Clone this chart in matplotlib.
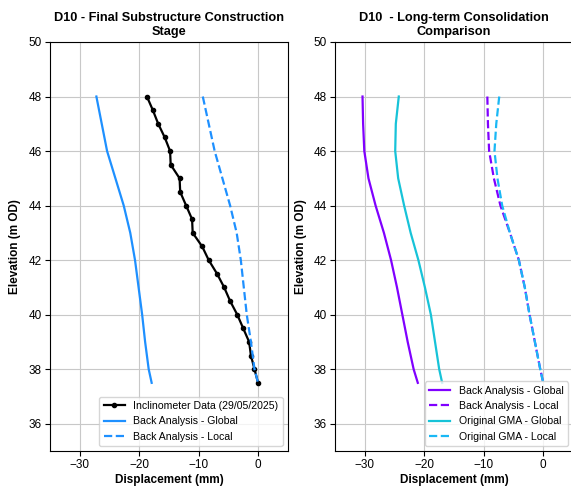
import numpy as np
import matplotlib
matplotlib.use("Agg")
import matplotlib.pyplot as plt

plt.rcParams['font.family'] = ['Liberation Sans', 'DejaVu Sans']

# inclinometer readings
incl_elev = [48, 47.5, 47, 46.5, 46, 45.5, 45, 44.5, 44, 43.5, 43, 42.5,
             42, 41.5, 41, 40.5, 40, 39.5, 39, 38.5, 38, 37.5]
incl_disp = [-18.7, -17.7, -16.8, -15.7, -14.8, -14.7, -13.2, -13.1, -12.1, -11.1, -11.0, -9.4,
             -8.3, -6.9, -5.7, -4.7, -3.5, -2.5, -1.5, -1.2, -0.6, 0.0]

# model profiles
elev = [48, 47, 46, 45, 44, 43, 42, 41, 40, 39, 38, 37.5]
ba_global = [-27.2, -26.3, -25.4, -24.0, -22.6, -21.5, -20.7, -20.1, -19.5, -19.0, -18.4, -17.9]
ba_local = [-9.3, -8.3, -7.3, -6.0, -4.7, -3.6, -2.9, -2.4, -1.9, -1.2, -0.6, 0.0]

lt_ba_global = [-30.4, -30.3, -30.1, -29.4, -28.2, -26.8, -25.6, -24.6, -23.7, -22.8, -21.8, -21.1]
lt_ba_local = [-9.4, -9.3, -9.1, -8.3, -7.2, -5.6, -4.1, -3.1, -2.3, -1.4, -0.5, 0.0]
lt_gma_global = [-24.3, -24.8, -24.9, -24.4, -23.4, -22.3, -21.0, -19.9, -18.9, -18.2, -17.5, -17.0]
lt_gma_local = [-7.4, -7.9, -8.2, -7.7, -6.9, -5.6, -4.1, -3.1, -2.3, -1.4, -0.5, 0.0]

fig = plt.figure(figsize=(5.71, 4.86), dpi=100)
ax1 = fig.add_axes([0.0876, 0.072, 0.4164, 0.8416])
ax2 = fig.add_axes([0.587, 0.072, 0.4164, 0.8416])

ax1.plot(incl_disp, incl_elev, color='black', marker='o', markersize=3, linewidth=1.6,
         label='Inclinometer Data (29/05/2025)')
ax1.plot(ba_global, elev, color='#1e90ff', linewidth=1.6, label='Back Analysis - Global')
ax1.plot(ba_local, elev, color='#1e90ff', linewidth=1.6, linestyle='--', label='Back Analysis - Local')
ax1.set_title('D10 - Final Substructure Construction\nStage', fontsize=9.2, fontweight='bold', pad=5)

ax2.plot(lt_ba_global, elev, color='#8000ff', linewidth=1.6, label='Back Analysis - Global')
ax2.plot(lt_ba_local, elev, color='#8000ff', linewidth=1.6, linestyle='--', label='Back Analysis - Local')
ax2.plot(lt_gma_global, elev, color='#17c3d8', linewidth=1.6, label='Original GMA - Global')
ax2.plot(lt_gma_local, elev, color='#1ab8f5', linewidth=1.6, linestyle='--', label='Original GMA - Local')
ax2.set_title('D10  - Long-term Consolidation\nComparison', fontsize=9.2, fontweight='bold', pad=5)

for ax in (ax1, ax2):
    ax.set_xlim(-35, 5)
    ax.set_ylim(35, 50)
    ax.set_xticks([-30, -20, -10, 0])
    ax.set_yticks([36, 38, 40, 42, 44, 46, 48, 50])
    ax.grid(True, color='#c8c8c8', linewidth=0.8)
    ax.set_xlabel('Displacement (mm)', fontsize=8.5, fontweight='bold', labelpad=2)
    ax.set_ylabel('Elevation (m OD)', fontsize=8.5, fontweight='bold', labelpad=5)
    ax.tick_params(labelsize=8.5, pad=2.5)
    ax.legend(loc='lower right', fontsize=7.6)

fig.savefig('out.png', dpi=100)
